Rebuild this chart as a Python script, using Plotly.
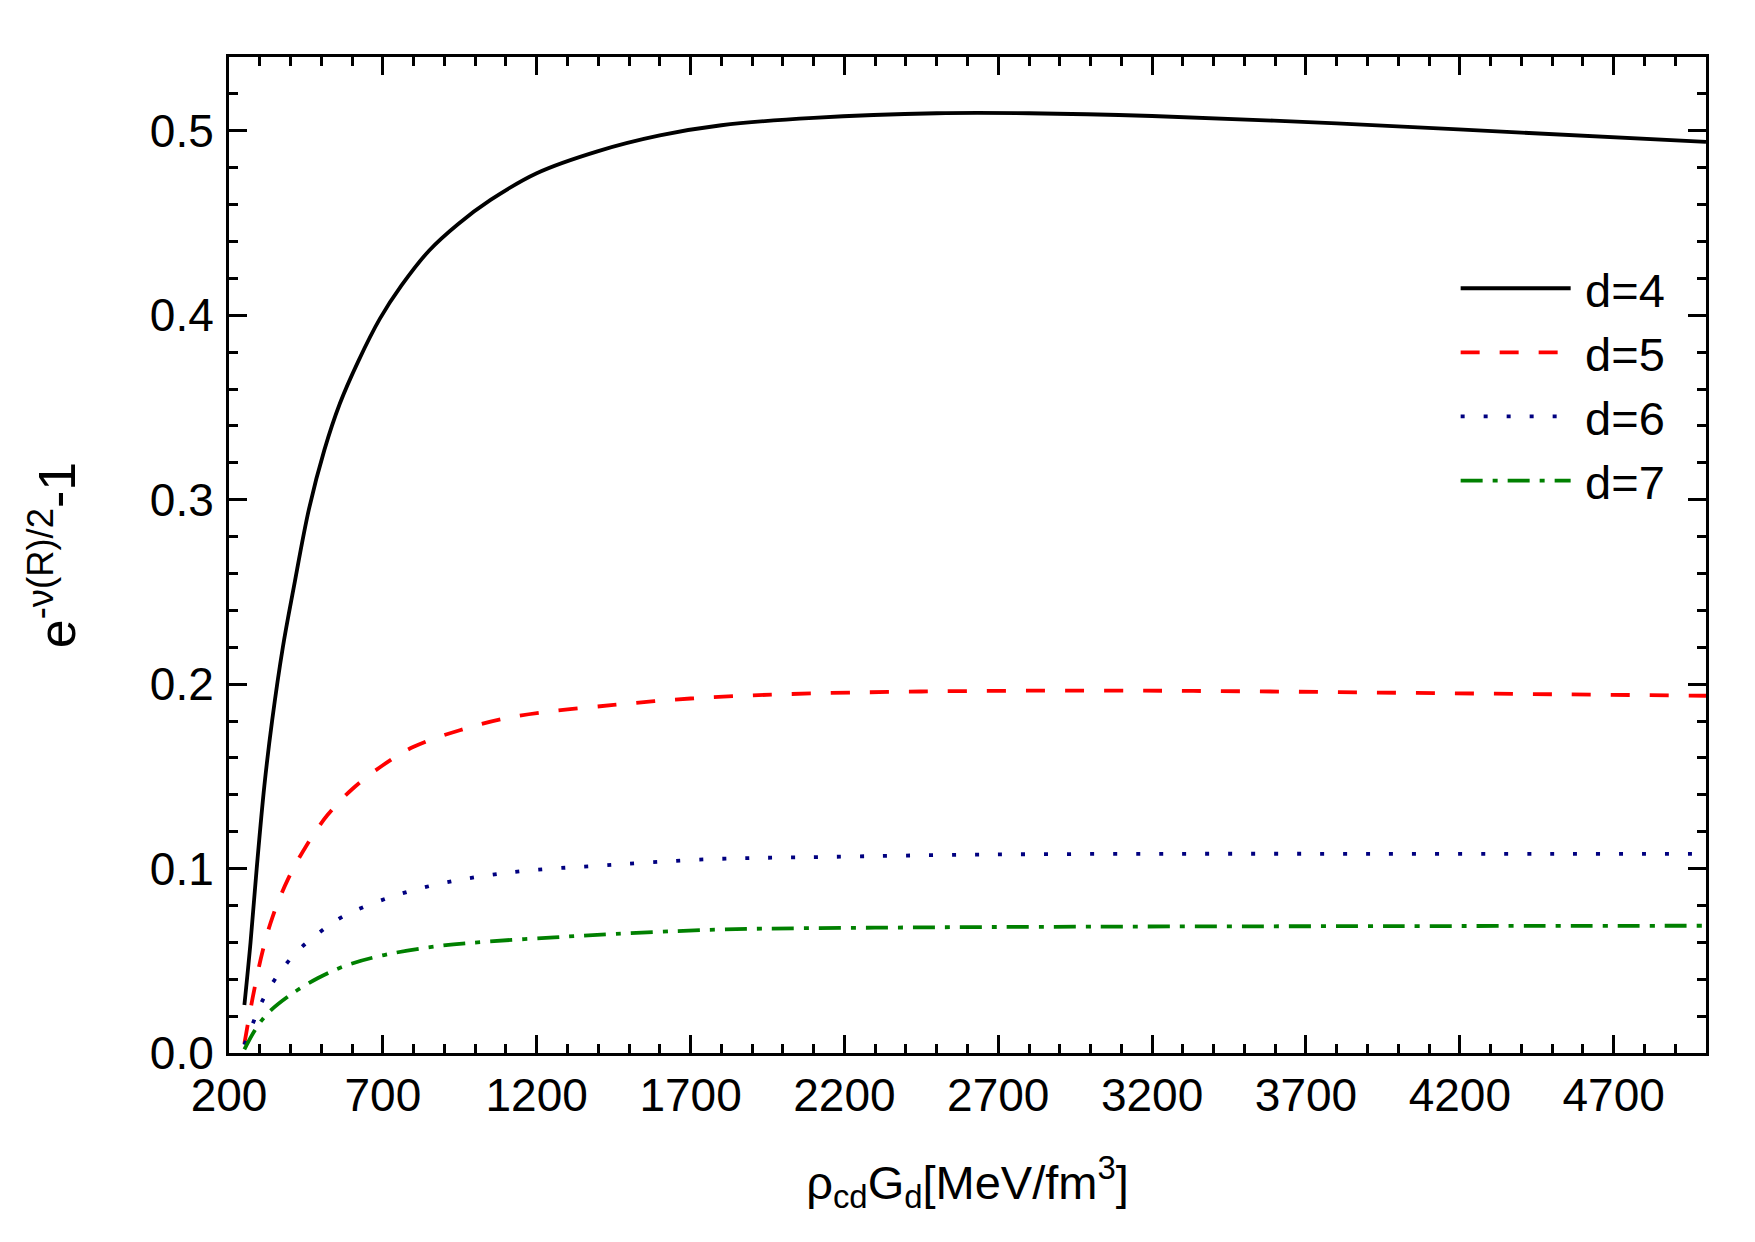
import plotly.graph_objects as go

# ---- data ----
x_d4 = [250, 270, 290, 315, 340, 375, 410, 460, 510, 560, 620, 690, 760, 850, 945,
        1050, 1200, 1400, 1600, 1800, 2100, 2500, 2800, 3200, 3800, 4400, 5000]
y_d4 = [0.026, 0.060, 0.100, 0.145, 0.180, 0.220, 0.252, 0.295, 0.327, 0.352, 0.375,
        0.398, 0.416, 0.435, 0.4495, 0.4625, 0.477, 0.489, 0.4975, 0.503, 0.507, 0.5095,
        0.5095, 0.5080, 0.5040, 0.4990, 0.4940]

x_d5 = [250, 277, 309, 342, 391, 450, 520, 600, 700, 800, 950, 1130, 1450, 1700,
        2000, 2450, 3000, 3500, 4000, 4500, 5000]
y_d5 = [0.005, 0.030, 0.055, 0.074, 0.094, 0.112, 0.129, 0.143, 0.156, 0.166,
        0.175, 0.1825, 0.1887, 0.1922, 0.1945, 0.1960, 0.1965, 0.1961, 0.1953,
        0.1945, 0.1937]

x_d6 = [250, 282, 315, 363, 423, 493, 569, 719, 867, 1013, 1170, 1386, 1765, 2136,
        2659, 3279, 3897, 4513, 5000]
y_d6 = [0.0045, 0.0179, 0.0305, 0.0432, 0.0553, 0.0652, 0.0739, 0.0842, 0.0911,
        0.0956, 0.0989, 0.1014, 0.1051, 0.1063, 0.1076, 0.1080, 0.1080, 0.1080, 0.1080]

x_d7 = [250, 288, 326, 391, 488, 585, 704, 867, 1040, 1257, 1451, 1812, 2356, 3000,
        4000, 5000]
y_d7 = [0.002, 0.0134, 0.0215, 0.0305, 0.0405, 0.0477, 0.0531, 0.0577, 0.0604,
        0.0627, 0.0645, 0.0670, 0.0680, 0.0685, 0.0688, 0.0690]

series_names = ["d=4", "d=5", "d=6", "d=7"]
series_x = [x_d4, x_d5, x_d6, x_d7]
series_y = [y_d4, y_d5, y_d6, y_d7]
colors = ["#000000", "#FF0000", "#000080", "#008000"]
dashes = ["solid", "19px,20px", "4px,19px", "22px,10px,5px,10px"]

FONT = "Liberation Sans, Arial, Helvetica, sans-serif"

fig = go.Figure()
for name, xs, ys, c, d in zip(series_names, series_x, series_y, colors, dashes):
    fig.add_trace(go.Scatter(
        x=xs, y=ys, name="\u2009" + name, mode="lines",
        line=dict(color=c, width=3.8, dash=d, shape="spline", smoothing=1.0),
    ))

axis_common = dict(
    showline=True, linecolor="black", linewidth=3, mirror="allticks",
    ticks="inside", ticklen=18, tickwidth=3, tickcolor="black",
    showgrid=False, zeroline=False,
    tickfont=dict(family=FONT, size=46, color="black"),
)

fig.update_xaxes(
    **axis_common,
    range=[200, 5000], tick0=200, dtick=500,
    minor=dict(ticks="inside", ticklen=9, tickwidth=3, tickcolor="black", dtick=100, tick0=200, showgrid=False),
    title=dict(text="ρ<sub>cd</sub>G<sub>d</sub>[MeV/fm<sup>3</sup>]",
               font=dict(family=FONT, size=47, color="black"), standoff=46),
    ticklabelstandoff=0,
)
fig.update_yaxes(
    **axis_common,
    range=[0, 0.54], tick0=0, dtick=0.1, tickformat=".1f",
    minor=dict(ticks="inside", ticklen=9, tickwidth=3, tickcolor="black", dtick=0.02, tick0=0, showgrid=False),
    title=dict(text="e<sup>-ν(R)/2</sup>-1",
               font=dict(family=FONT, size=52, color="black"), standoff=58),
    ticklabelstandoff=3,
)

fig.update_layout(
    width=1755, height=1242,
    margin=dict(l=229, r=49, t=57, b=189, autoexpand=False),
    paper_bgcolor="white", plot_bgcolor="white",
    font=dict(family=FONT, color="black"),
    legend=dict(
        x=0.8305, y=0.805, xanchor="left", yanchor="top",
        bgcolor="rgba(0,0,0,0)", borderwidth=0,
        font=dict(family=FONT, size=47, color="black"),
        itemwidth=110, tracegroupgap=0,
    ),
    showlegend=True,
)

fig.write_html("out.html")
